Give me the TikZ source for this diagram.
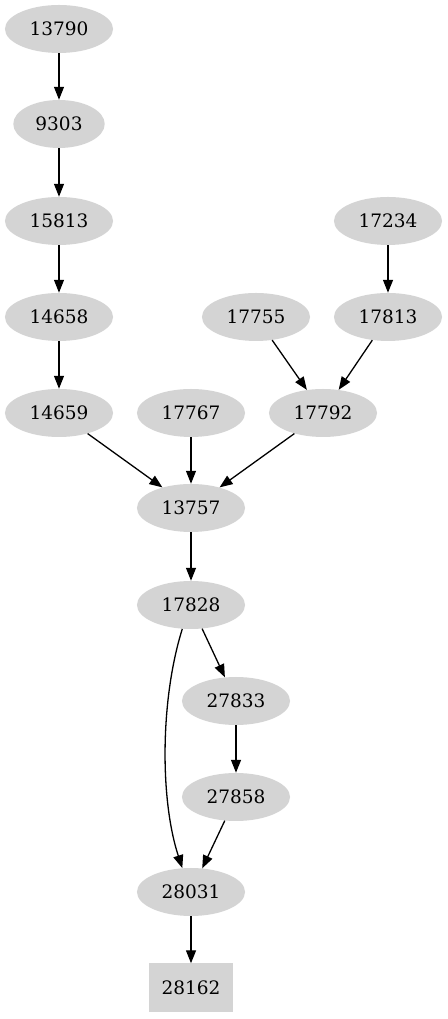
\documentclass[tikz,border=0pt]{standalone}
\usepackage{fontspec}
\setmainfont{DejaVu Serif}
\usepackage{tikz}
\usetikzlibrary{arrows.meta}
\usetikzlibrary{shapes.geometric}

\begin{document}
\begin{tikzpicture}[x=1pt, y=1pt,
    vertex/.style={ellipse, fill=black!17, inner xsep=8.8pt, inner ysep=0pt, minimum height=48pt, font=\fontsize{18.5}{22}\selectfont},
    leaf/.style={rectangle, fill=black!17, minimum width=84pt, minimum height=49pt, font=\fontsize{18.5}{22}\selectfont},
    edge/.style={line width=1.3pt, -{Triangle[length=13pt, width=10pt]}}]
\useasboundingbox (0,0) rectangle (447,1019);

\node[vertex] (n13790) at (59,990) {13790};
\node[vertex] (n9303) at (59,895) {9303};
\node[vertex] (n15813) at (59,798) {15813};
\node[vertex] (n14658) at (59,702) {14658};
\node[vertex] (n14659) at (59,606) {14659};
\node[vertex] (n17234) at (388,798) {17234};
\node[vertex] (n17755) at (256,702) {17755};
\node[vertex] (n17813) at (388,702) {17813};
\node[vertex] (n17767) at (191,606) {17767};
\node[vertex] (n17792) at (323,606) {17792};
\node[vertex] (n13757) at (191,511) {13757};
\node[vertex] (n17828) at (191,414) {17828};
\node[vertex] (n27833) at (236,318) {27833};
\node[vertex] (n27858) at (236,222) {27858};
\node[vertex] (n28031) at (191,127) {28031};
\node[leaf] (n28162) at (191,31) {28162};

\draw[edge] (n13790) -- (n9303);
\draw[edge] (n9303) -- (n15813);
\draw[edge] (n15813) -- (n14658);
\draw[edge] (n14658) -- (n14659);
\draw[edge] (n14659) -- (n13757);
\draw[edge] (n17767) -- (n13757);
\draw[edge] (n17792) -- (n13757);
\draw[edge] (n17755) -- (n17792);
\draw[edge] (n17813) -- (n17792);
\draw[edge] (n17234) -- (n17813);
\draw[edge] (n13757) -- (n17828);
\draw[edge] (n17828) -- (n27833);
\draw[edge] (n17828.250) .. controls (160,319) and (160,219) .. (n28031.110);
\draw[edge] (n27833) -- (n27858);
\draw[edge] (n27858) -- (n28031);
\draw[edge] (n28031) -- (n28162);
\end{tikzpicture}
\end{document}
